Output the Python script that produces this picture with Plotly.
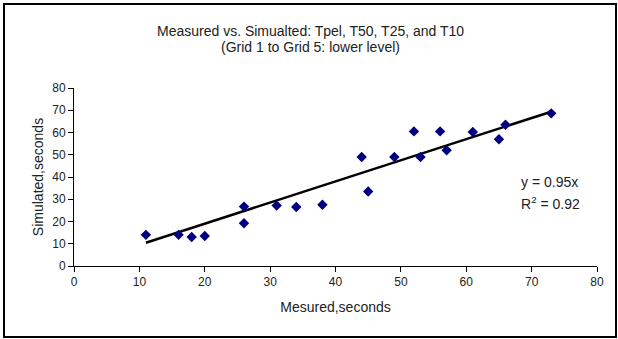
import plotly.graph_objects as go

measured = [11, 16, 18, 20, 26, 26, 31, 34, 38, 44, 45, 49, 52, 53, 56, 57, 61, 65, 66, 73]
simulated = [14, 14, 13, 13.5, 26.7, 19.2, 27.2, 26.5, 27.5, 49, 33.5, 49, 60.5, 49, 60.5, 52, 60.2, 57, 63.5, 68.6]
slope = 0.95
trend_x = [min(measured), max(measured)]
trend_y = [slope * v for v in trend_x]
title_lines = ["Measured vs. Simualted: Tpel, T50, T25, and T10", "(Grid 1 to Grid 5: lower level)"]

W, H = 618, 339
L, R, T, B = 74, 21, 88, 73

fig = go.Figure()
fig.add_trace(go.Scatter(x=trend_x, y=trend_y, mode="lines",
                         line=dict(color="black", width=2.5), showlegend=False, hoverinfo="skip"))
fig.add_trace(go.Scatter(x=measured, y=simulated, mode="markers",
                         marker=dict(symbol="diamond", color="#000080", size=8), showlegend=False))

FAM = "Liberation Sans, Arial, sans-serif"
font = dict(family=FAM, color="#222", size=12)

fig.update_layout(
    width=W, height=H,
    margin=dict(l=L, r=R, t=T, b=B),
    paper_bgcolor="white", plot_bgcolor="white",
    font=font,
    xaxis=dict(range=[0, 80], dtick=10, showgrid=False, zeroline=False, showline=True,
               linecolor="black", linewidth=1, ticks="outside", ticklen=5, tickcolor="black",
               title=dict(text="Mesured,seconds", standoff=13, font=dict(size=14)),
               tickfont=dict(size=12)),
    yaxis=dict(range=[0, 80], dtick=10, showgrid=False, zeroline=False, showline=True,
               linecolor="black", linewidth=1, ticks="outside", ticklen=5, tickcolor="black",
               title=dict(text="Simulated,seconds", standoff=5, font=dict(size=14)),
               tickfont=dict(size=12)),
)

pw, ph = W - L - R, H - T - B
def px(x): return (x - L) / pw
def py(y): return (H - B - y) / ph

fig.add_shape(type="rect", xref="paper", yref="paper",
              x0=px(4), x1=px(616), y0=py(337), y1=py(4),
              line=dict(color="black", width=2), fillcolor="rgba(0,0,0,0)")

for txt, yy in zip(title_lines, [31, 47]):
    fig.add_annotation(text=txt, xref="paper", yref="paper", x=px(310), y=py(yy),
                       xanchor="center", yanchor="middle", showarrow=False,
                       font=dict(size=14, color="#222", family=FAM))

fig.add_annotation(text="y = 0.95x", xref="paper", yref="paper",
                   x=px(519), y=py(182), xanchor="left", yanchor="middle", showarrow=False,
                   font=dict(size=14, color="#222", family=FAM))
fig.add_annotation(text="R<sup>2</sup> = 0.92", xref="paper", yref="paper",
                   x=px(519), y=py(203), xanchor="left", yanchor="middle", showarrow=False,
                   font=dict(size=14, color="#222", family=FAM))

fig.write_html("out.html")
